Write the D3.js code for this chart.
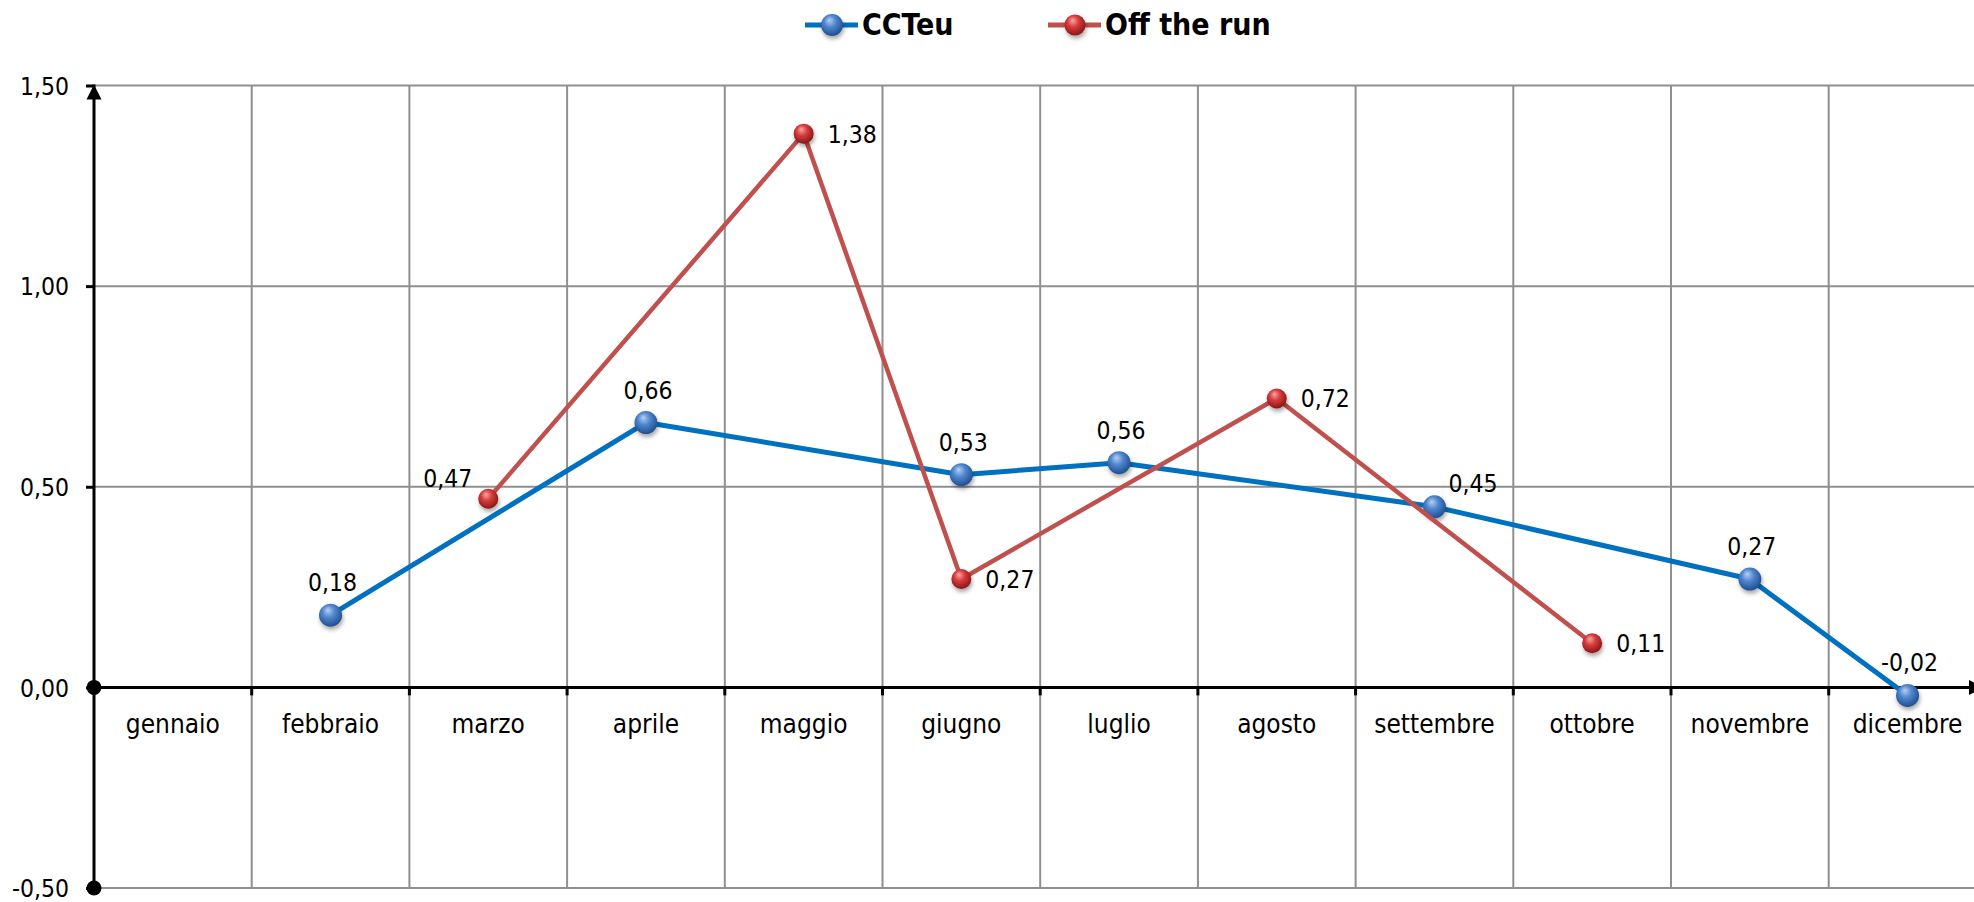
<!DOCTYPE html>
<html>
<head>
<meta charset="utf-8">
<script src="https://cdn.jsdelivr.net/npm/d3@7"></script>
<style>
  html, body { margin: 0; padding: 0; background: #fff; overflow: hidden; }
  svg { display: block; }
  .lbl { font-family: "DejaVu Sans Condensed", "DejaVu Sans", sans-serif; font-stretch: condensed; fill: #000; }
</style>
</head>
<body>
<script>
// ---- data ----
const months = ["gennaio","febbraio","marzo","aprile","maggio","giugno","luglio","agosto","settembre","ottobre","novembre","dicembre"];
const cctValues = [null, 0.18, null, 0.66, null, 0.53, 0.56, null, 0.45, null, 0.27, -0.02];
const otrValues = [null, null, 0.47, null, 1.38, 0.27, null, 0.72, null, 0.11, null, null];
const yTicks = [-0.5, 0, 0.5, 1.0, 1.5];
const seriesNames = ["CCTeu", "Off the run"];
// label placement keywords (style, not data)
const cctLabelPos = [null, "above", null, "above", null, "above", "above", null, "aboveRight", null, "above", "above"];
const otrLabelPos = [null, null, "left", null, "right", "right", null, "right", null, "right", null, null];

const W = 1974, H = 902;
const left = 94, band = 157.7;
const x = d3.scaleBand().domain(months).range([left, left + band * months.length]).paddingInner(0).paddingOuter(0);
const y = d3.scaleLinear().domain([-0.5, 1.5]).range([888, 85.5]);

const loc = d3.formatLocale({decimal: ",", thousands: ".", grouping: [3], currency: ["€", ""], minus: "-"});
const fmt = loc.format(".2f");

const svg = d3.select("body").append("svg").attr("width", W).attr("height", H);
const defs = svg.append("defs");

function sphereGrad(id, c0, c1, c2) {
  const g = defs.append("radialGradient").attr("id", id)
    .attr("cx", "45%").attr("cy", "40%").attr("r", "60%").attr("fx", "38%").attr("fy", "28%");
  g.append("stop").attr("offset", "0%").attr("stop-color", c0);
  g.append("stop").attr("offset", "45%").attr("stop-color", c1);
  g.append("stop").attr("offset", "100%").attr("stop-color", c2);
}
sphereGrad("gBlue", "#b5d0f2", "#4f86cf", "#1f4f8e");
sphereGrad("gRed", "#f6a6a6", "#d93a3a", "#861818");
const f = defs.append("filter").attr("id", "shadow").attr("x", "-50%").attr("y", "-50%").attr("width", "200%").attr("height", "200%");
f.append("feDropShadow").attr("dx", 1).attr("dy", 3).attr("stdDeviation", 2).attr("flood-color", "#000").attr("flood-opacity", 0.35);

defs.append("marker").attr("id", "arrow").attr("viewBox", "0 0 10 10").attr("refX", 10).attr("refY", 5)
  .attr("markerWidth", 15).attr("markerHeight", 16).attr("markerUnits", "userSpaceOnUse").attr("orient", "auto")
  .append("path").attr("d", "M0,0 L10,5 L0,10 Z").attr("fill", "#000");

// ---- gridlines ----
const grid = svg.append("g");
grid.selectAll("line.h").data(yTicks.filter(t => t !== 0)).join("line")
  .attr("x1", left).attr("x2", W).attr("y1", d => y(d)).attr("y2", d => y(d))
  .attr("stroke", "#8f8f8f").attr("stroke-width", 2);
grid.selectAll("line.v").data(months.slice(1)).join("line")
  .attr("x1", d => x(d)).attr("x2", d => x(d)).attr("y1", y(1.5)).attr("y2", y(-0.5))
  .attr("stroke", "#8f8f8f").attr("stroke-width", 2);

// ---- y axis ----
const yAxis = d3.axisLeft(y).tickValues(yTicks).tickFormat(fmt).tickSize(8).tickPadding(17);
const ya = svg.append("g").attr("transform", `translate(${left},0)`).call(yAxis);
ya.select(".domain").remove();
ya.selectAll(".tick line").attr("stroke", "#000").attr("stroke-width", 3);
ya.selectAll(".tick text").attr("class", "lbl").style("font-size", "24.5px").attr("dy", "0.36em");
svg.append("line").attr("x1", left).attr("x2", left).attr("y1", y(-0.5)).attr("y2", y(1.5) - 1)
  .attr("stroke", "#000").attr("stroke-width", 3).attr("marker-end", "url(#arrow)");
svg.selectAll("circle.ydot").data([0, -0.5]).join("circle")
  .attr("cx", left).attr("cy", d => y(d)).attr("r", 7.5).attr("fill", "#000");

// ---- x axis ----
svg.append("line").attr("x1", left).attr("x2", 1984).attr("y1", y(0)).attr("y2", y(0))
  .attr("stroke", "#000").attr("stroke-width", 3).attr("marker-end", "url(#arrow)");
svg.selectAll("line.xt").data(months.slice(1)).join("line")
  .attr("x1", d => x(d)).attr("x2", d => x(d)).attr("y1", y(0)).attr("y2", y(0) + 8)
  .attr("stroke", "#000").attr("stroke-width", 3);
svg.selectAll("text.xl").data(months).join("text").attr("class", "lbl")
  .attr("x", d => x(d) + x.bandwidth() / 2).attr("y", 733).attr("text-anchor", "middle")
  .style("font-size", "26px").text(d => d);

// ---- series ----
function build(vals) {
  return months.map((m, i) => ({m, v: vals[i], i})).filter(d => d.v !== null);
}
const cct = build(cctValues), otr = build(otrValues);
const line = d3.line().x(d => x(d.m) + x.bandwidth() / 2).y(d => y(d.v));

function drawSeries(data, color, width, grad, r) {
  svg.append("path").datum(data).attr("d", line).attr("fill", "none")
    .attr("stroke", color).attr("stroke-width", width).attr("stroke-linejoin", "round");
  svg.append("g").selectAll("circle").data(data).join("circle")
    .attr("cx", d => x(d.m) + x.bandwidth() / 2).attr("cy", d => y(d.v)).attr("r", r)
    .attr("fill", `url(#${grad})`).attr("filter", "url(#shadow)");
}
drawSeries(cct, "#0070C0", 5, "gBlue", 11.5);
drawSeries(otr, "#C0504D", 4.5, "gRed", 10);

// ---- data labels ----
function drawLabels(data, pos) {
  svg.append("g").selectAll("text").data(data).join("text").attr("class", "lbl")
    .style("font-size", "24.5px")
    .each(function(d) {
      const px = x(d.m) + x.bandwidth() / 2, py = y(d.v);
      const p = pos[d.i];
      const t = d3.select(this).text(fmt(d.v));
      if (p === "above") t.attr("x", px + 2).attr("y", py - 24).attr("text-anchor", "middle");
      else if (p === "aboveRight") t.attr("x", px + 14).attr("y", py - 15).attr("text-anchor", "start");
      else if (p === "left") t.attr("x", px - 16).attr("y", py - 12).attr("text-anchor", "end");
      else t.attr("x", px + 24).attr("y", py + 9).attr("text-anchor", "start");
    });
}
drawLabels(cct, cctLabelPos);
drawLabels(otr, otrLabelPos);

// ---- legend ----
const legendItems = [
  {name: seriesNames[0], color: "#0070C0", grad: "gBlue", r: 11, x0: 805},
  {name: seriesNames[1], color: "#C0504D", grad: "gRed", r: 10.5, x0: 1048}
];
const lg = svg.append("g");
legendItems.forEach(it => {
  lg.append("line").attr("x1", it.x0).attr("x2", it.x0 + 53).attr("y1", 25).attr("y2", 25)
    .attr("stroke", it.color).attr("stroke-width", 5);
  lg.append("circle").attr("cx", it.x0 + 27).attr("cy", 25).attr("r", it.r)
    .attr("fill", `url(#${it.grad})`).attr("filter", "url(#shadow)");
  lg.append("text").attr("class", "lbl").attr("x", it.x0 + 57).attr("y", 35)
    .style("font-size", "30px").style("font-weight", "bold").text(it.name);
});
</script>
</body>
</html>
